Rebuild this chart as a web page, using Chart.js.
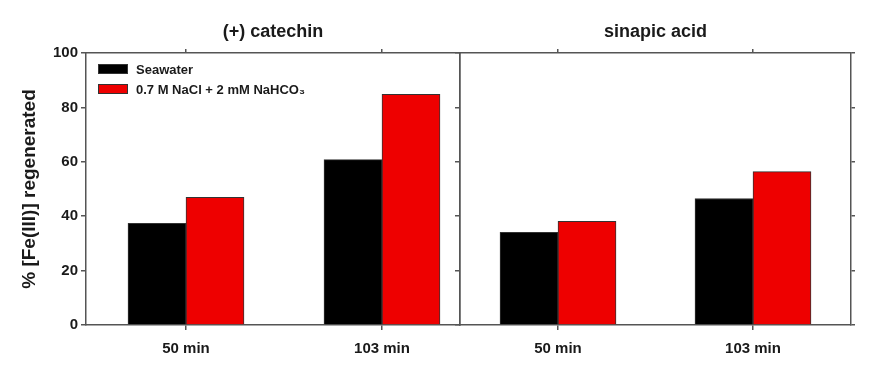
<!DOCTYPE html>
<html>
<head>
<meta charset="utf-8">
<script src="https://cdn.jsdelivr.net/npm/chart.js@4/dist/chart.umd.min.js"></script>
<style>
  body { margin: 0; background: #fff; }
  #wrap { position: relative; width: 873px; height: 365px; font-family: "Liberation Sans", Arial, sans-serif; }
  canvas { position: absolute; top: 0; }
  #legend { position: absolute; left: 98px; top: 59px; font-weight: bold; font-size: 13px; color: #1a1a1a; }
  #legend div { display: flex; align-items: center; height: 20px; }
  #legend span.box { display: inline-block; width: 28px; height: 8px; border: 1px solid #333; margin-right: 8px; }
</style>
</head>
<body>
<div id="wrap">
  <canvas id="left" width="462" height="365" style="left:0"></canvas>
  <canvas id="right" width="423" height="365" style="left:450px"></canvas>
  <div id="legend"></div>
</div>
<script>
const timeLabels = ["50 min", "103 min"];
const seriesNames = ["Seawater", "0.7 M NaCl + 2 mM NaHCO\u2083"];
const seriesColors = ["#000000", "#ee0000"];
const yTicks = [0, 20, 40, 60, 80, 100];

const catechinSeawater = [37.4, 60.8];
const catechinNaCl = [46.9, 84.8];
const sinapicSeawater = [34.1, 46.5];
const sinapicNaCl = [38.1, 56.4];

const axisColor = "#555";
const textColor = "#1a1a1a";
const font = "'Liberation Sans', Arial, sans-serif";

function points(values) {
  return values.map((v, i) => ({ x: i + 1, y: v }));
}

function groupTicks(scale) {
  scale.ticks = timeLabels.map((_, i) => ({ value: i + 1 }));
}

function makePanel(id, title, values, xMin, xMax, isFirst) {
  const datasets = values.map((vals, i) => ({
    label: seriesNames[i],
    data: points(vals),
    backgroundColor: seriesColors[i],
    borderColor: "#333",
    borderWidth: 1,
    barThickness: 58,
  }));

  const border = { color: axisColor, width: 1.5 };

  return new Chart(document.getElementById(id), {
    type: "bar",
    data: { datasets },
    options: {
      responsive: false,
      animation: false,
      layout: { padding: { left: 0, right: isFirst ? 2 : 12, top: 0, bottom: 0 } },
      plugins: {
        legend: { display: false },
        tooltip: { enabled: false },
        title: {
          display: true,
          text: title,
          fullSize: false,
          color: textColor,
          font: { family: font, size: 18, weight: "bold" },
          padding: { top: 21, bottom: 4.4 },
        },
      },
      scales: {
        x: {
          type: "linear",
          position: "bottom",
          offset: false,
          min: xMin,
          max: xMax,
          afterBuildTicks: groupTicks,
          afterFit: s => { s.height = 40; },
          border,
          grid: { offset: false, drawOnChartArea: false, color: axisColor, tickLength: 5, lineWidth: 1.5 },
          ticks: {
            padding: 10,
            color: textColor,
            font: { family: font, size: 15, weight: "bold" },
            callback: v => timeLabels[v - 1],
          },
        },
        xTop: {
          type: "linear",
          position: "top",
          offset: false,
          min: xMin,
          max: xMax,
          afterBuildTicks: groupTicks,
          afterFit: s => { s.height = 6; },
          border,
          grid: { offset: false, drawOnChartArea: false, color: axisColor, tickLength: 4, lineWidth: 1.5 },
          ticks: { display: false },
        },
        y: {
          position: "left",
          min: 0,
          max: 100,
          afterBuildTicks: s => { s.ticks = yTicks.map(v => ({ value: v })); },
          afterFit: s => { s.width = isFirst ? 86 : 10; },
          border,
          grid: { drawOnChartArea: false, color: axisColor, tickLength: 5, lineWidth: 1.5 },
          ticks: {
            display: isFirst,
            padding: 3,
            color: textColor,
            font: { family: font, size: 15, weight: "bold" },
          },
          title: {
            display: isFirst,
            text: "% [Fe(III)] regenerated",
            color: textColor,
            font: { family: font, size: 19, weight: "bold" },
            padding: { top: 18, bottom: 0 },
          },
        },
        yRight: {
          position: "right",
          min: 0,
          max: 100,
          afterBuildTicks: s => { s.ticks = yTicks.map(v => ({ value: v })); },
          afterFit: s => { s.width = isFirst ? 0 : 10; },
          border,
          grid: { display: !isFirst, drawOnChartArea: false, color: axisColor, tickLength: 4, lineWidth: 1.5 },
          ticks: { display: false },
        },
      },
    },
  });
}

makePanel("left", "(+) catechin", [catechinSeawater, catechinNaCl], 0.4898, 2.398, true);
makePanel("right", "sinapic acid", [sinapicSeawater, sinapicNaCl], 0.4974, 2.5026, false);

const legend = document.getElementById("legend");
seriesNames.forEach((name, i) => {
  const row = document.createElement("div");
  const box = document.createElement("span");
  box.className = "box";
  box.style.background = seriesColors[i];
  row.appendChild(box);
  row.appendChild(document.createTextNode(name));
  legend.appendChild(row);
});
</script>
</body>
</html>
